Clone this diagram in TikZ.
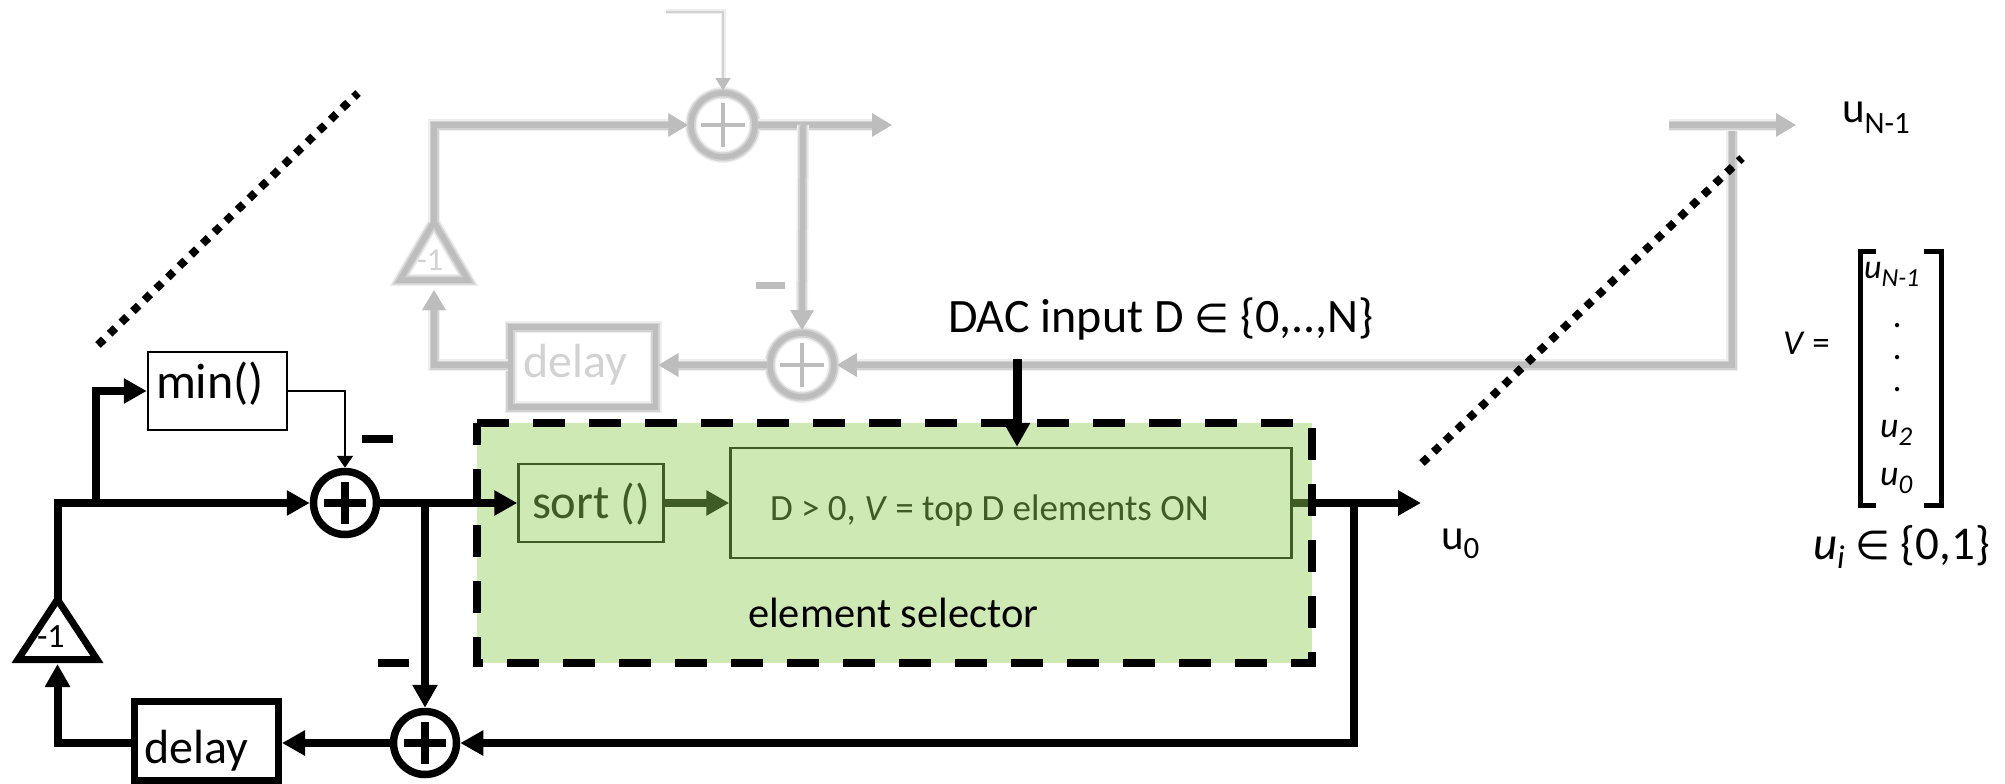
\documentclass[tikz,border=0pt]{standalone}
\usepackage{fontspec}
\setmainfont{Carlito}
\newfontfamily\symf{DejaVu Sans}
\usetikzlibrary{arrows.meta}
\newcommand{\fs}[1]{\fontsize{#1pt}{#1pt}\selectfont}
\definecolor{selgreen}{HTML}{CEE9B3}
\definecolor{dkgreen}{HTML}{3F5C25}
\definecolor{ghostc}{HTML}{BDBDBD}
\definecolor{ghosth}{HTML}{D2D2D2}
\definecolor{ghostf}{HTML}{EEEEEE}
\tikzset{
  x=1pt,y=-1pt,
  txt/.style={anchor=base west,inner sep=0pt,outer sep=0pt},
  wire/.style={draw=black,line width=8pt,line join=miter},
  arr/.style={-{Triangle[length=23pt,width=24pt]}},
  sumnode/.style={circle,draw=black,line width=7.5pt,minimum size=63pt,inner sep=0pt},
  plusbar/.style={draw=black,line width=8.5pt},
  minusbar/.style={fill=black,inner sep=0pt,minimum width=31pt,minimum height=8pt},
  boxthin/.style={rectangle,draw=black,line width=2.5pt,inner sep=0pt},
  boxgreen/.style={rectangle,draw=dkgreen,line width=2.5pt,inner sep=0pt},
  ghostwire/.style={draw=ghostc,line width=5.5pt,preaction={draw=ghostf,line width=12pt},preaction={draw=ghosth,line width=9pt}},
  ghostarr/.style={-{Triangle[length=20pt,width=22pt]}},
  ghostsum/.style={circle,draw=ghostc,line width=5.5pt,minimum size=64pt,inner sep=0pt,preaction={draw=ghostf,line width=12pt},preaction={draw=ghosth,line width=9pt}},
  dotline/.style={draw=black,line width=8pt,dash pattern=on 8pt off 8.2pt},
}
\begin{document}
\begin{tikzpicture}
\useasboundingbox (0,0) rectangle (2005,784);
% ---------- faded copy ----------
\node[ghostsum] (gs1) at (723,125) {};
\node[ghostsum] (gs2) at (802,365) {};
\node[rectangle,ghostwire,minimum width=145pt,minimum height=80pt,inner sep=0pt] (gdelay) at (583,367) {};
\node[txt,text=ghosth] (gdelaytxt) at (523,377) {\fs{48}delay};
\coordinate (gtl) at (400,280);
\coordinate (gtr) at (468,280);
\coordinate (gta) at (434,222);
\draw[ghostwire,line join=miter] (gtl) -- (gta) -- (gtr) -- cycle;
\node[txt,text=ghosth] (gonetxt) at (417,270) {\fs{32}-1};
\coordinate (gthin) at (666,12);
\coordinate (gj1) at (803,125);
\coordinate (gout) at (892,125);
\coordinate (gcorn) at (1732,125);
\coordinate (gtop) at (1669,125);
\coordinate (gtopout) at (1796,125);
\coordinate (gtribase) at (434,290);
\draw[draw=ghosth,line width=2.5pt,preaction={draw=ghostf,line width=5pt},-{Triangle[length=12pt,width=14pt,color=ghostc]}] (gthin) -| (gs1.north);
\draw[ghostwire,ghostarr] (gta) |- (gs1.west);
\draw[ghostwire,ghostarr] (gs1.east) -- (gout);
\draw[ghostwire,ghostarr] (gj1) -- (gs2.north);
\draw[ghostwire,ghostarr] (gs2.west) -- (gdelay.east |- gs2.west);
\draw[ghostwire,ghostarr] (gdelay.west |- gs2.west) -| (gtribase);
\draw[ghostwire,ghostarr] (gcorn) |- (gs2.east);
\draw[ghostwire,ghostarr] (gtop) -- (gtopout);
\draw[ghostc,line width=4pt] (gs1.center) ++(-22,0) -- ++(44,0) (gs1.center) ++(0,-22) -- ++(0,44);
\draw[ghostc,line width=4pt] (gs2.center) ++(-22,0) -- ++(44,0) (gs2.center) ++(0,-22) -- ++(0,44);
\node[rectangle,fill=ghostc,inner sep=0pt,minimum width=29pt,minimum height=7pt] (gminus) at (770,285) {};
% ---------- dotted separators ----------
\coordinate (d1a) at (98,345);
\coordinate (d1b) at (358,93);
\coordinate (d2a) at (1422,463);
\coordinate (d2b) at (1742,158);
\draw[dotline] (d1a) -- (d1b);
\draw[dotline] (d2a) -- (d2b);
% ---------- element selector ----------
\coordinate (gbtl) at (477,423);
\coordinate (gbtr) at (1312,423);
\coordinate (gbbr) at (1312,663);
\coordinate (gbbl) at (477,663);
\fill[selgreen] (gbtl) -- (gbtr) -- (gbbr) -- (gbbl) -- cycle;
\node[boxgreen,minimum width=145pt,minimum height=78pt] (sortb) at (591,503) {};
\node[txt,text=dkgreen] (sorttxt) at (532,518) {\fs{48.5}sort ()};
\node[boxgreen,minimum width=561pt,minimum height=110pt] (selb) at (1011,503) {};
\node[txt,text=dkgreen] (seltxt) at (770,520) {\fs{37}D > 0, \textit{V} = top D elements ON};
\node[txt] (eltxt) at (748,627) {\fs{42.5}element selector};
\coordinate (selout) at (1312,503);
\draw[draw=dkgreen,line width=8pt,-{Triangle[length=23pt,width=24pt]}] (sortb.east) -- (selb.west);
\draw[draw=dkgreen,line width=8pt] (selb.east) -- (selout);
% ---------- blocks ----------
\node[boxthin,minimum width=139pt,minimum height=78pt] (minb) at (217.5,391) {};
\node[txt] (mintxt) at (156,398) {\fs{50}min()};
\node[sumnode] (s1) at (345,503) {};
\node[sumnode] (s2) at (425,743) {};
\node[rectangle,draw=black,line width=7pt,inner sep=0pt,minimum width=144pt,minimum height=79pt] (delayb) at (206.5,741) {};
\node[txt] (delaytxt) at (144,763) {\fs{48}delay};
\coordinate (tl) at (18,659.5);
\coordinate (tr) at (97,659.5);
\coordinate (ta) at (57.5,599.5);
\draw[draw=black,line width=7pt,line join=miter] (tl) -- (ta) -- (tr) -- cycle;
\node[txt] (onetxt) at (37,647) {\fs{34}-1};
\coordinate (tribase) at (57.5,664);
\coordinate (j1) at (95.5,503);
\coordinate (j2) at (425,503);
\coordinate (j3) at (1354,503);
\coordinate (uout) at (1421,503);
\draw[wire,arr] (ta) |- (s1.west);
\draw[wire,arr] (j1) |- (minb.west);
\draw[draw=black,line width=2pt,-{Triangle[length=12pt,width=16pt]}] (minb.east) -| (s1.north);
\draw[wire,arr] (s1.east) -- (sortb.west);
\draw[wire,arr] (j2) -- (s2.north);
\draw[wire] (selout) -- (j3);
\draw[wire,arr] (j3) -- (uout);
\draw[wire,arr] (j3) |- (s2.east);
\draw[wire,arr] (s2.west) -- (delayb.east |- s2.west);
\draw[wire,arr] (delayb.west |- s2.west) -| (tribase);
\draw[plusbar] (s1.center) ++(-21,0) -- ++(42,0) (s1.center) ++(0,-21) -- ++(0,42);
\draw[plusbar] (s2.center) ++(-21,0) -- ++(42,0) (s2.center) ++(0,-21) -- ++(0,42);
\node[minusbar] (m1) at (377,439) {};
\node[minusbar] (m2) at (393,663) {};
% dashed outline on top
\draw[draw=black,line width=7.5pt,dash pattern=on 32pt off 24pt] (gbtl) -- (gbtr) -- (gbbr) -- (gbbl) -- cycle;
% ---------- DAC input ----------
\node[txt] (dac) at (948,332) {\fs{48}DAC input D {\symf\fs{40}∈} \{0,..,N\}};
\coordinate (dacs) at (1017,359);
\draw[draw=black,line width=9pt,-{Triangle[length=24pt,width=25pt]}] (dacs) -- (selb.north -| dacs);
% ---------- outputs ----------
\node[txt] (u0) at (1441,549) {\fs{43}u\raisebox{-9pt}{\fs{31}0}};
\node[txt] (uN) at (1842,122) {\fs{43}u\raisebox{-11pt}{\fs{31}N-1}};
% ---------- matrix ----------
\node[txt] (veq) at (1783,354) {\fs{35}\textit{V} =};
\coordinate (lbt) at (1876,251.5);
\coordinate (lbb) at (1876,505.5);
\coordinate (rbt) at (1924,251.5);
\coordinate (rbb) at (1924,505.5);
\draw[draw=black,line width=5pt,line join=miter] (lbt) -| (1860,505.5) -- (lbb);
\draw[draw=black,line width=5pt,line join=miter] (rbt) -| (1941,505.5) -- (rbb);
\node[txt] (e1) at (1864,278) {\fs{34}\textit{u}\raisebox{-8pt}{\fs{26}\textit{N-1}}};
\node[anchor=base,inner sep=0pt] (e2) at (1898,327) {\fs{36}\textit{.}};
\node[anchor=base,inner sep=0pt] (e3) at (1898,359) {\fs{36}\textit{.}};
\node[anchor=base,inner sep=0pt] (e4) at (1898,391) {\fs{36}\textit{.}};
\node[txt] (e5) at (1880,437) {\fs{36}\textit{u}\raisebox{-8pt}{\fs{27}\textit{2}}};
\node[txt] (e6) at (1880,485) {\fs{36}\textit{u}\raisebox{-8pt}{\fs{27}\textit{0}}};
\node[txt] (ui) at (1813,559) {\fs{47}\textit{u}\raisebox{-9pt}{\fs{33}\textit{i}} {\symf\fs{40}∈} \{0,1\}};
\end{tikzpicture}
\end{document}
